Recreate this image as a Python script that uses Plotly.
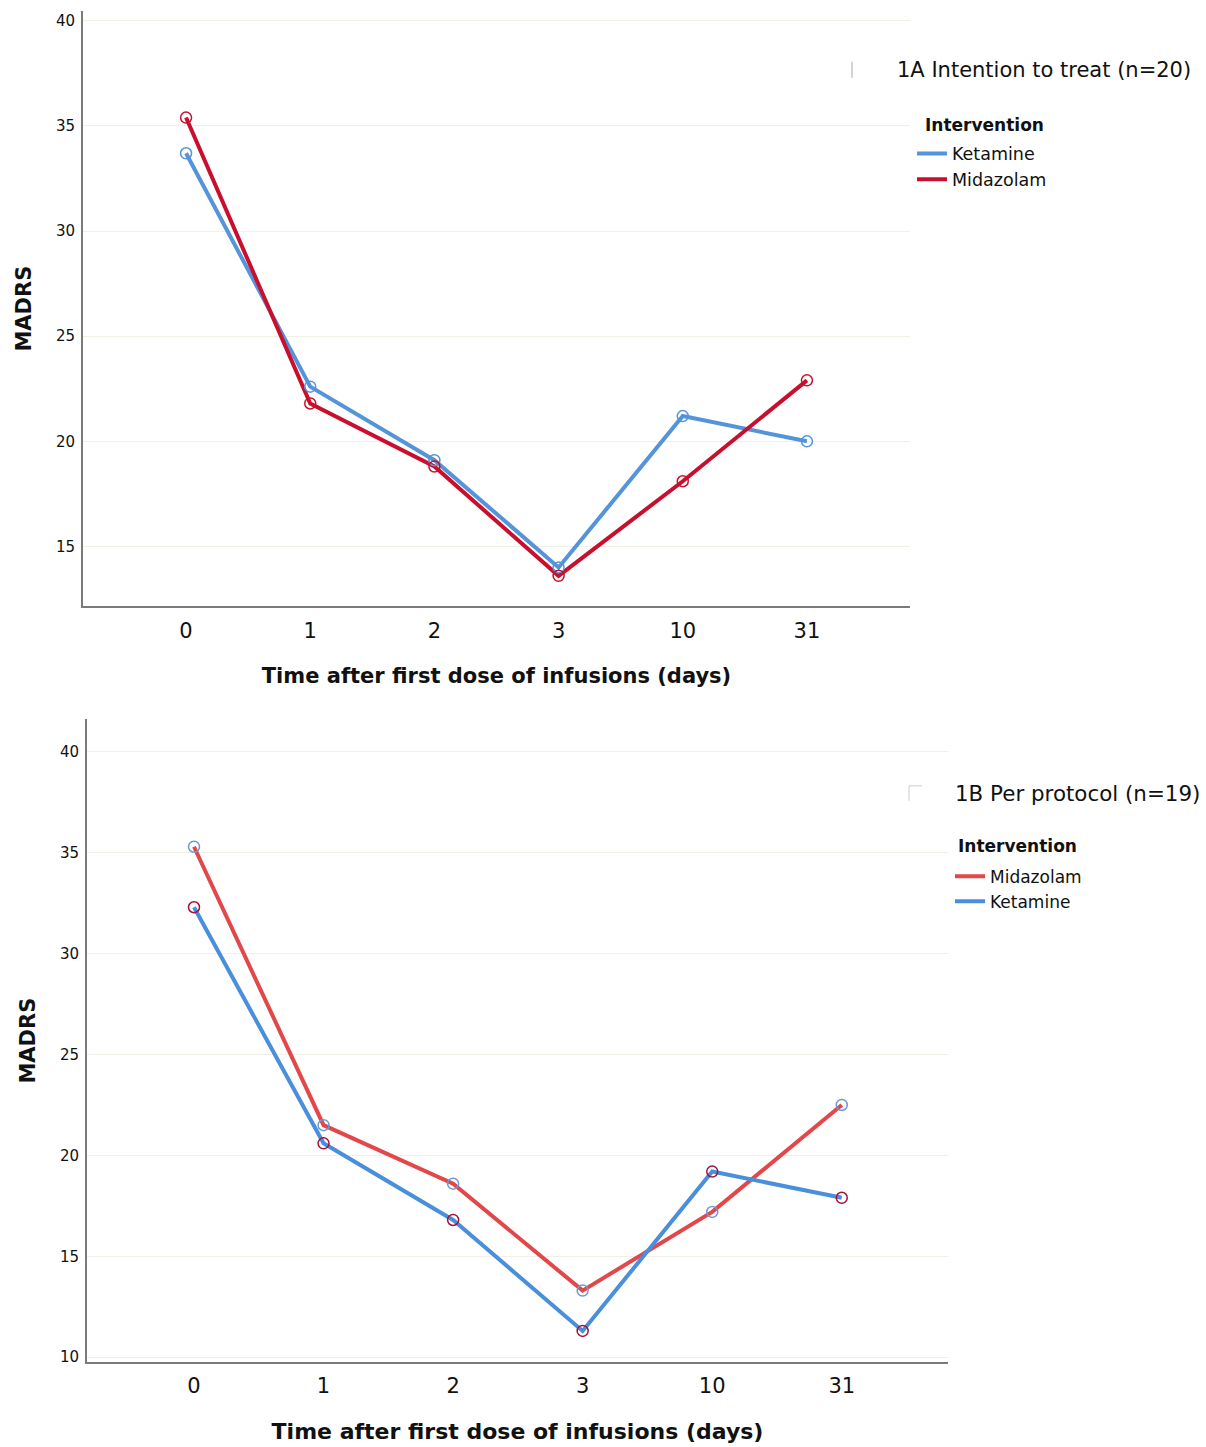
import plotly.graph_objects as go

W, H = 1206, 1447

time_labels = ["0", "1", "2", "3", "10", "31"]

# Panel 1A: Intention to treat (n=20)
ket_a = [33.7, 22.6, 19.1, 14.0, 21.2, 20.0]
mid_a = [35.4, 21.8, 18.8, 13.6, 18.1, 22.9]

# Panel 1B: Per protocol (n=19)
mid_b = [35.3, 21.5, 18.6, 13.3, 17.2, 22.5]
ket_b = [32.3, 20.6, 16.8, 11.3, 19.2, 17.9]

BLUE_A = "#5594d9"
RED_A = "#c8102e"
BLUE_B = "#4a8fdb"
RED_B = "#e2474a"
MARK_RED_B = "#a3123e"
MARK_BLUE_B = "#6a9ad6"

FONT = "DejaVu Sans"

fig = go.Figure()

def add_line(x, y, color, name, xa, ya, leg):
    fig.add_trace(go.Scatter(x=x, y=y, mode="lines", name=name,
                             line=dict(color=color, width=4),
                             xaxis=xa, yaxis=ya, legend=leg))

def add_marks(x, y, color, xa, ya):
    fig.add_trace(go.Scatter(x=x, y=y, mode="markers", showlegend=False,
                             marker=dict(symbol="circle-open", size=11, color=color,
                                         line=dict(width=1.5)),
                             xaxis=xa, yaxis=ya))

# ---- panel A
add_line(time_labels, ket_a, BLUE_A, "Ketamine", "x", "y", "legend")
add_line(time_labels, mid_a, RED_A, "Midazolam", "x", "y", "legend")
add_marks(time_labels, ket_a, BLUE_A, "x", "y")
add_marks(time_labels, mid_a, RED_A, "x", "y")

# ---- panel B (marker colours are swapped relative to lines, as in the original)
add_line(time_labels, mid_b, RED_B, "Midazolam", "x2", "y2", "legend2")
add_line(time_labels, ket_b, BLUE_B, "Ketamine", "x2", "y2", "legend2")
add_marks(time_labels, mid_b, MARK_BLUE_B, "x2", "y2")
add_marks(time_labels, ket_b, MARK_RED_B, "x2", "y2")

def px_x(v):
    return v / W

def px_y(v):
    return 1 - v / H

grid_col = "#f2efe4"
AX_COL = "#7a7a7a"

def xaxis_cfg(dom, rng, anchor, title_size, standoff):
    return dict(domain=dom, type="category", range=rng, anchor=anchor,
                showgrid=False, zeroline=False, showline=True, ticks="",
                linecolor=AX_COL, linewidth=2,
                tickfont=dict(size=21, color="#111"), ticklabelstandoff=4,
                title=dict(text="<b>Time after first dose of infusions (days)</b>",
                           font=dict(size=title_size, color="#111"), standoff=standoff))

def yaxis_cfg(dom, rng, anchor, vals):
    return dict(domain=dom, range=rng, anchor=anchor, tickvals=vals,
                showgrid=True, gridcolor=grid_col, gridwidth=1,
                zeroline=False, showline=True, ticks="",
                linecolor=AX_COL, linewidth=2,
                tickfont=dict(size=15, color="#111"), ticklabelstandoff=3,
                title=dict(text="<b>MADRS</b>", font=dict(size=21, color="#111"), standoff=19))

fig.update_layout(
    width=W, height=H,
    margin=dict(l=0, r=0, t=0, b=0),
    paper_bgcolor="white", plot_bgcolor="white",
    font=dict(family=FONT, color="#111"),
    xaxis=xaxis_cfg([px_x(83), px_x(910)], [-0.83, 5.83], "y", 21, 27),
    yaxis=yaxis_cfg([px_y(608), px_y(11)], [12.15, 40.47], "x", [15, 20, 25, 30, 35, 40]),
    xaxis2=xaxis_cfg([px_x(87), px_x(948)], [-0.826, 5.82], "y2", 22, 26),
    yaxis2=yaxis_cfg([px_y(1366), px_y(721)], [9.75, 41.63], "x2", [10, 15, 20, 25, 30, 35, 40]),
    legend=dict(x=px_x(912), y=px_y(136), xanchor="left", yanchor="top",
                bgcolor="rgba(0,0,0,0)", tracegroupgap=0, itemwidth=30,
                font=dict(size=17.5, color="#111")),
    legend2=dict(x=px_x(950), y=px_y(861), xanchor="left", yanchor="top",
                 bgcolor="rgba(0,0,0,0)", tracegroupgap=0, itemwidth=30,
                 font=dict(size=17, color="#111")),
    showlegend=True,
)

fig.add_annotation(text="1A Intention to treat (n=20)", xref="paper", yref="paper",
                   x=px_x(895), y=px_y(70), xanchor="left", yanchor="middle",
                   showarrow=False, font=dict(size=21, color="#111"))
fig.add_annotation(text="1B Per protocol (n=19)", xref="paper", yref="paper",
                   x=px_x(953), y=px_y(796), xanchor="left", yanchor="middle",
                   showarrow=False, font=dict(size=21.4, color="#111"))
fig.add_annotation(text="<b>Intervention</b>", xref="paper", yref="paper",
                   x=px_x(923), y=px_y(125), xanchor="left", yanchor="middle",
                   showarrow=False, font=dict(size=17, color="#111"))
fig.add_annotation(text="<b>Intervention</b>", xref="paper", yref="paper",
                   x=px_x(956), y=px_y(848), xanchor="left", yanchor="middle",
                   showarrow=False, font=dict(size=17, color="#111"))

# small artefact marks next to panel labels
fig.add_shape(type="line", xref="paper", yref="paper", x0=px_x(852), x1=px_x(852),
              y0=px_y(62), y1=px_y(78), line=dict(color="#aaa", width=1))
fig.add_shape(type="line", xref="paper", yref="paper", x0=px_x(909), x1=px_x(909),
              y0=px_y(788), y1=px_y(803), line=dict(color="#ccc", width=1))
fig.add_shape(type="line", xref="paper", yref="paper", x0=px_x(909), x1=px_x(922),
              y0=px_y(788), y1=px_y(788), line=dict(color="#ccc", width=1))

fig.write_html("out.html", config={"displayModeBar": False},
               post_script="document.body.style.margin='0';document.body.style.overflow='hidden';")
